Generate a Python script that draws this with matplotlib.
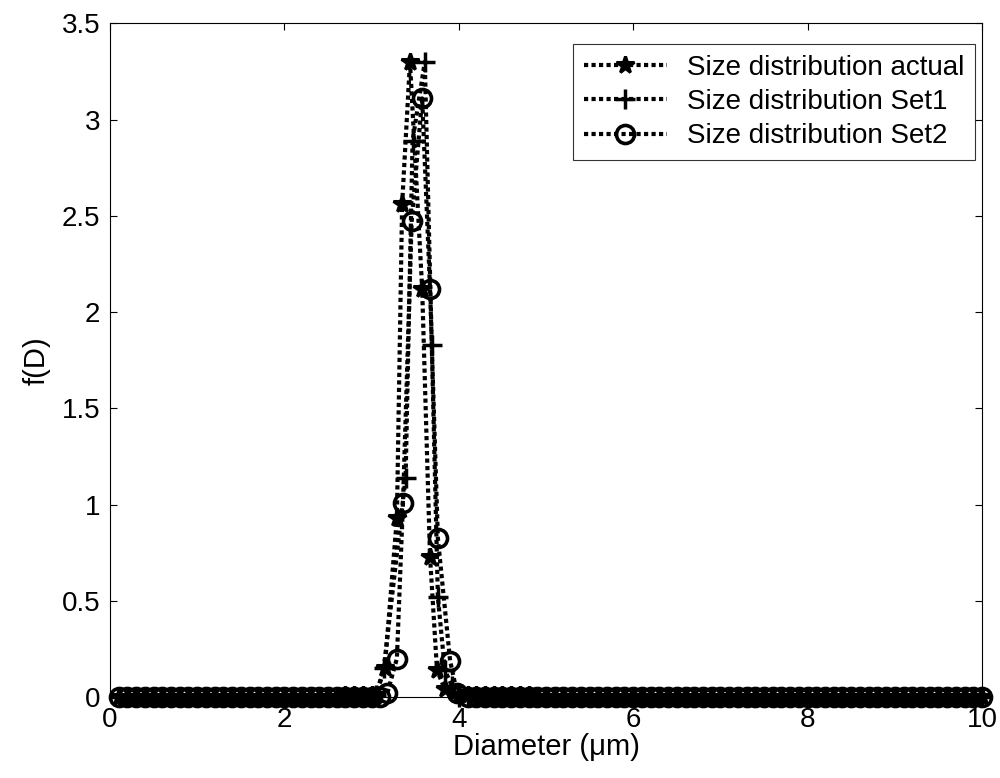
import numpy as np
import matplotlib
matplotlib.use('Agg')
import matplotlib.pyplot as plt

plt.rcParams['font.family'] = ['Liberation Sans', 'DejaVu Sans']

# diameter grid of the baseline samples (um)
grid = np.round(np.arange(1, 101) * 0.1, 2)

# peak region of each series
actual_x = [2.7, 2.8, 2.9, 3.0, 3.05, 3.15, 3.29, 3.35, 3.44, 3.58, 3.67, 3.75, 3.84,
            4.0, 4.1, 4.2, 4.3, 4.4, 4.5, 4.6, 4.7, 4.8]
actual_y = [0.01, 0.01, 0.01, 0.01, 0.01, 0.15, 0.93, 2.56, 3.30, 2.12, 0.73, 0.14, 0.04,
            0.01, 0.01, 0.01, 0.01, 0.01, 0.01, 0.01, 0.01, 0.01]

set1_x = [3.05, 3.14, 3.39, 3.47, 3.61, 3.69, 3.76, 3.84, 3.92]
set1_y = [0.01, 0.15, 1.14, 2.89, 3.30, 1.83, 0.52, 0.14, 0.06]

set2_x = [3.18, 3.29, 3.36, 3.46, 3.58, 3.67, 3.76, 3.90, 3.98]
set2_y = [0.02, 0.20, 1.01, 2.475, 3.11, 2.12, 0.825, 0.19, 0.02]


def full_series(px, py):
    # baseline zeros outside the peak region, peak values inside
    lo, hi = min(px), max(px)
    tail_left = [g for g in grid if g < lo - 0.04]
    tail_right = [g for g in grid if g > hi + 0.04]
    xs = tail_left + list(px) + tail_right
    ys = [0.0] * len(tail_left) + list(py) + [0.0] * len(tail_right)
    return xs, ys


fig = plt.figure(figsize=(10, 7.78), dpi=100)
ax = fig.add_axes([0.11, 0.104, 0.872, 0.866])

xa, ya = full_series(actual_x, actual_y)
x1, y1 = full_series(set1_x, set1_y)
x2, y2 = full_series(set2_x, set2_y)

dots = (0, (1, 0.8))
ax.plot(xa, ya, linestyle=dots, color='k', lw=3, marker='*', ms=13, mew=2.2,
        label='Size distribution actual', clip_on=False)
ax.plot(x1, y1, linestyle=dots, color='k', lw=3, marker='+', ms=15, mew=2.5,
        label='Size distribution Set1', clip_on=False)
ax.plot(x2, y2, linestyle=dots, color='k', lw=3, marker='o', ms=13, mew=2.6, mfc='none',
        label='Size distribution Set2', clip_on=False)

ax.set_xlim(0, 10)
ax.set_ylim(0, 3.5)
ax.set_xticks([0, 2, 4, 6, 8, 10])
ax.set_yticks([0, 0.5, 1, 1.5, 2, 2.5, 3, 3.5])
ax.set_yticklabels(['0', '0.5', '1', '1.5', '2', '2.5', '3', '3.5'])
ax.tick_params(direction='in', top=True, right=True, length=5, labelsize=20, pad=7)
for s in ax.spines.values():
    s.set_linewidth(0.8)

ax.set_xlabel('Diameter (\u03bcm)', fontsize=21, labelpad=0)
ax.set_ylabel('f(D)', fontsize=21, labelpad=8)

leg = ax.legend(loc='upper right', bbox_to_anchor=(0.992, 0.97), fontsize=20,
                frameon=True, fancybox=False, edgecolor='k', handlelength=3.0,
                borderaxespad=0, borderpad=0.4, labelspacing=0.3, handletextpad=0.7)
leg.get_frame().set_linewidth(0.8)

fig.savefig('out.png', dpi=100)
